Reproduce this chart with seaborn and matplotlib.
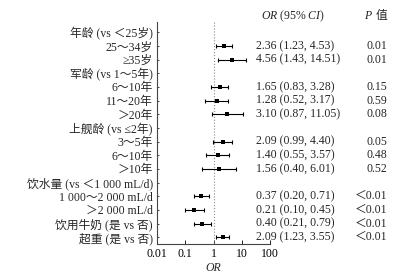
import numpy as np
import pandas as pd
import matplotlib
matplotlib.use('Agg')
import matplotlib.pyplot as plt
import matplotlib.transforms as mtransforms
from matplotlib.ticker import FixedLocator, FixedFormatter, LogLocator, NullFormatter
import seaborn as sns

labels = ['年龄 (vs ＜25岁)', '25～34岁', '≥35岁',
          '军龄 (vs 1～5年)', '6～10年', '11～20年', '＞20年',
          '上舰龄 (vs ≤2年)', '3～5年', '6～10年', '＞10年',
          '饮水量 (vs ＜1 000 mL/d)', '1 000～2 000 mL/d', '＞2 000 mL/d',
          '饮用牛奶 (是 vs 否)', '超重 (是 vs 否)']
odds = [np.nan, 2.36, 4.56, np.nan, 1.65, 1.28, 3.10, np.nan, 2.09, 1.40, 1.56,
        np.nan, 0.37, 0.21, 0.40, 2.09]
ci_low = [np.nan, 1.23, 1.43, np.nan, 0.83, 0.52, 0.87, np.nan, 0.99, 0.55, 0.40,
          np.nan, 0.20, 0.10, 0.21, 1.23]
ci_high = [np.nan, 4.53, 14.51, np.nan, 3.28, 3.17, 11.05, np.nan, 4.40, 3.57, 6.01,
           np.nan, 0.71, 0.45, 0.79, 3.55]
p_values = ['', '0.01', '0.01', '', '0.15', '0.59', '0.08', '', '0.05', '0.48', '0.52',
            '', '＜0.01', '＜0.01', '＜0.01', '＜0.01']
x_ticks = [0.01, 0.1, 1, 10, 100]
x_tick_labels = ['0.01', '0.1', '1', '10', '100']

df = pd.DataFrame({'label': labels, 'OR': odds, 'lo': ci_low, 'hi': ci_high, 'P': p_values})
df['row'] = np.arange(len(df))
est = df.dropna(subset=['OR'])

sns.set_theme(style='ticks')
plt.rcParams['font.family'] = ['Liberation Serif', 'Noto Sans CJK SC', 'DejaVu Sans']
plt.rcParams['mathtext.fontset'] = 'custom'
plt.rcParams['mathtext.rm'] = 'Liberation Serif'
plt.rcParams['mathtext.it'] = 'Liberation Serif:italic'
fs = 8.5

fig = plt.figure(figsize=(4.03, 2.76), dpi=100)
ax = fig.add_axes([157 / 403, 32 / 276, 113 / 403, 222 / 276])

ax.axvline(1, color='#888888', lw=0.8, ls=':', zorder=1)
ax.errorbar(est['OR'], est['row'],
            xerr=[est['OR'] - est['lo'], est['hi'] - est['OR']],
            fmt='none', ecolor='black', elinewidth=0.8, capsize=1.5, capthick=0.8, zorder=2)
sns.scatterplot(data=est, x='OR', y='row', marker='s', s=8, color='black',
                edgecolor='black', linewidth=0, ax=ax, zorder=3)

ax.set_xscale('log')
ax.set_xlim(0.01, 100)
ax.set_ylim(15.5, -0.75)
ax.xaxis.set_major_locator(FixedLocator(x_ticks))
ax.xaxis.set_major_formatter(FixedFormatter(x_tick_labels))
ax.xaxis.set_minor_locator(LogLocator(base=10, subs=np.arange(2, 10)))
ax.xaxis.set_minor_formatter(NullFormatter())
ax.set_yticks(df['row'])
ax.set_yticklabels(df['label'])
ax.tick_params(axis='x', which='major', direction='in', length=3, width=0.6,
               labelsize=fs, pad=3, colors='black')
ax.tick_params(axis='x', which='minor', direction='in', length=1.5, width=0.5)
ax.tick_params(axis='y', direction='in', length=1.5, width=0.6, labelsize=fs, pad=3)
ax.set_xlabel('OR', fontsize=fs, fontstyle='italic', labelpad=1)
ax.set_ylabel('')
sns.despine(ax=ax)
for side in ['left', 'bottom']:
    ax.spines[side].set_color('#444444')
    ax.spines[side].set_linewidth(0.8)

trans = mtransforms.blended_transform_factory(fig.transFigure, ax.transData)
for _, r in est.iterrows():
    ax.text(256 / 403, r['row'], f"{r['OR']:.2f} ({r['lo']:.2f}, {r['hi']:.2f})",
            transform=trans, ha='left', va='center', fontsize=fs, clip_on=False)
    ax.text(387 / 403, r['row'], r['P'], transform=trans, ha='right', va='center',
            fontsize=fs, clip_on=False)

head_y = 1 - 16 / 276
fig.text(261 / 403, head_y, '$\\mathit{OR}$ (95% $\\mathit{CI}$)',
         ha='left', va='center', fontsize=fs)
fig.text(364 / 403, head_y, 'P', ha='left', va='center', fontsize=fs, fontstyle='italic')
fig.text(387 / 403, head_y, '值', ha='right', va='center', fontsize=fs)

fig.savefig('out.png', dpi=100)
